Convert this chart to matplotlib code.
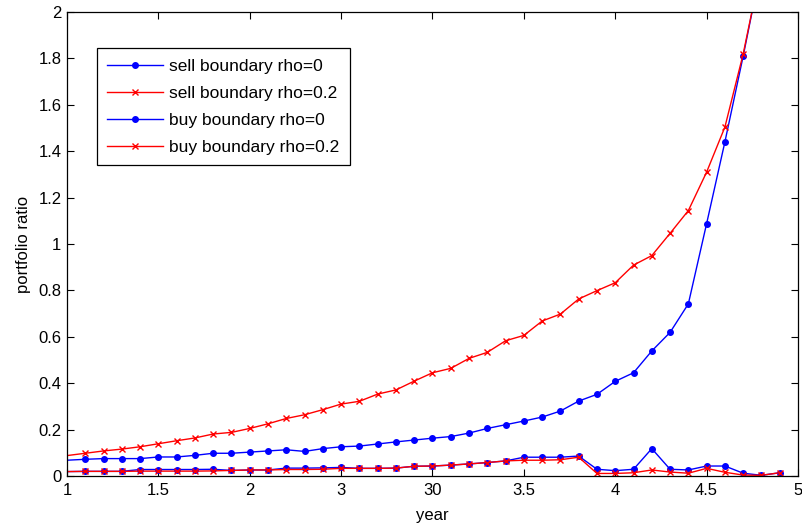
import numpy as np
import matplotlib
matplotlib.use('Agg')
import matplotlib.pyplot as plt

plt.rcParams['font.family'] = ['Liberation Sans', 'DejaVu Sans']

year = np.round(np.arange(1.0, 4.95, 0.1), 1)  # 1.0 ... 4.9

sell_rho0 = [0.068, 0.072, 0.075, 0.075, 0.075, 0.082, 0.082, 0.089, 0.098, 0.098,
             0.103, 0.108, 0.113, 0.106, 0.118, 0.126, 0.129, 0.138, 0.147, 0.155,
             0.163, 0.170, 0.185, 0.205, 0.221, 0.237, 0.254, 0.280, 0.323, 0.352,
             0.408, 0.445, 0.539, 0.619, 0.742, 1.088, 1.440, 1.810, 2.200, 2.700]
sell_rho02 = [0.088, 0.098, 0.108, 0.116, 0.126, 0.139, 0.152, 0.164, 0.181, 0.188,
              0.205, 0.225, 0.248, 0.264, 0.286, 0.310, 0.322, 0.353, 0.371, 0.409,
              0.445, 0.464, 0.507, 0.533, 0.583, 0.606, 0.668, 0.698, 0.763, 0.799,
              0.833, 0.909, 0.950, 1.046, 1.144, 1.310, 1.504, 1.819, 2.200, 2.700]
buy_rho0 = [0.019, 0.020, 0.020, 0.020, 0.028, 0.028, 0.028, 0.028, 0.029, 0.024,
            0.026, 0.026, 0.034, 0.034, 0.035, 0.037, 0.033, 0.033, 0.034, 0.042,
            0.043, 0.047, 0.052, 0.058, 0.065, 0.081, 0.081, 0.081, 0.086, 0.029,
            0.023, 0.029, 0.118, 0.029, 0.026, 0.043, 0.043, 0.012, 0.003, 0.014]
buy_rho02 = [0.019, 0.020, 0.020, 0.020, 0.021, 0.021, 0.021, 0.021, 0.022, 0.024,
             0.026, 0.026, 0.028, 0.028, 0.029, 0.033, 0.033, 0.033, 0.034, 0.042,
             0.043, 0.047, 0.052, 0.058, 0.065, 0.068, 0.068, 0.070, 0.081, 0.011,
             0.011, 0.014, 0.026, 0.017, 0.012, 0.033, 0.016, 0.004, 0.003, 0.014]

xticks = [1, 1.5, 2, 2.5, 3, 3.5, 4, 4.5, 5]
xticklabels = ['1', '1.5', '2', '3', '30', '3.5', '4', '4.5', '5']
yticks = np.round(np.arange(0, 2.01, 0.2), 1)
yticklabels = ['0', '0.2', '0.4', '0.6', '0.8', '1', '1.2', '1.4', '1.6', '1.8', '2']

fig = plt.figure(figsize=(8.03, 5.32), dpi=100)
ax = fig.add_axes([67 / 803, 56 / 532, 731 / 803, 464 / 532])

mk = slice(1, None)  # no marker on the first sample
ax.plot(year, sell_rho0, 'b-', marker='.', markersize=8, linewidth=1, markevery=mk,
        label='sell boundary rho=0')
ax.plot(year, sell_rho02, 'r-', marker='x', markersize=5, markeredgewidth=1, linewidth=1,
        markevery=mk, label='sell boundary rho=0.2')
ax.plot(year, buy_rho0, 'b-', marker='.', markersize=8, linewidth=1, markevery=mk,
        label='buy boundary rho=0')
ax.plot(year, buy_rho02, 'r-', marker='x', markersize=5, markeredgewidth=1, linewidth=1,
        markevery=mk, label='buy boundary rho=0.2')

ax.set_xlim(1, 5)
ax.set_ylim(0, 2)
ax.set_xticks(xticks)
ax.set_xticklabels(xticklabels)
ax.set_yticks(yticks)
ax.set_yticklabels(yticklabels)
ax.tick_params(direction='in', top=True, right=True, length=5, width=0.8,
               labelsize=12, pad=5)
ax.tick_params(axis='y', pad=4)
for s in ax.spines.values():
    s.set_linewidth(0.9)

ax.set_xlabel('year', fontsize=12, labelpad=7)
ax.set_ylabel('portfolio ratio', fontsize=12, labelpad=5)

leg = ax.legend(loc='upper left', bbox_to_anchor=(0.041, 0.922), fontsize=12.5,
                handlelength=3.2, handletextpad=0.35, labelspacing=0.68,
                borderpad=0.6, fancybox=False, framealpha=1, borderaxespad=0)
leg.get_frame().set_edgecolor('black')
leg.get_frame().set_linewidth(0.9)

fig.savefig('out.png', dpi=100)
